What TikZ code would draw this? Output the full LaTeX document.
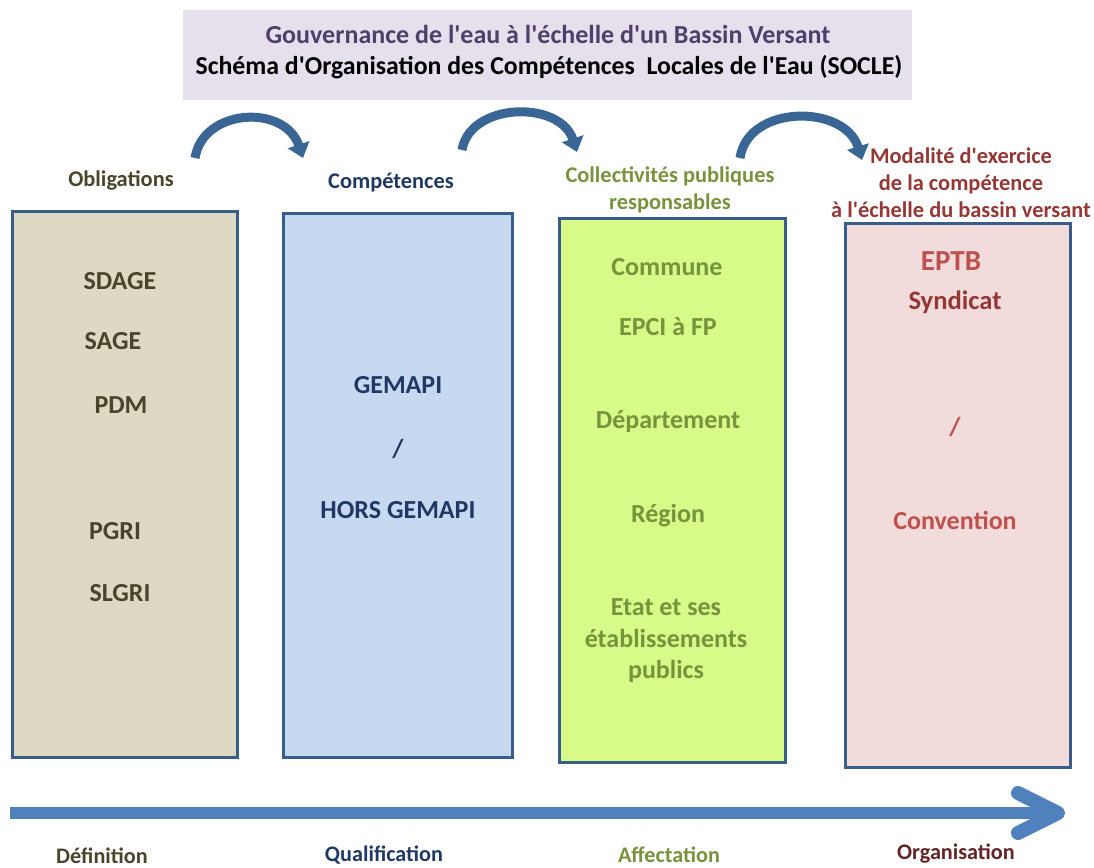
\documentclass[tikz,border=0pt]{standalone}
\usepackage{fontspec}
\setmainfont{Carlito}
\usetikzlibrary{arrows.meta}
\definecolor{titlebg}{HTML}{E5E0EC}
\definecolor{titlepurple}{HTML}{4F3F6B}
\definecolor{boxblue}{HTML}{385D8A}
\definecolor{curveblue}{HTML}{3A6696}
\definecolor{axisblue}{HTML}{4F81BD}
\definecolor{fillbrown}{HTML}{DDD9C3}
\definecolor{fillblue}{HTML}{C6D9F1}
\definecolor{fillgreen}{HTML}{D8FA88}
\definecolor{fillpink}{HTML}{F2DCDB}
\definecolor{txtbrown}{HTML}{4A452A}
\definecolor{txtnavy}{HTML}{1F3864}
\definecolor{txtgreen}{HTML}{77933C}
\definecolor{txtred}{HTML}{C0504D}
\definecolor{txtdarkred}{HTML}{953735}
\definecolor{txtwine}{HTML}{632423}
\newcommand{\ap}{\textquotesingle}

\begin{document}
\begin{tikzpicture}[x=0.5pt,y=-0.5pt,
    column/.style={draw=boxblue,line width=1.5pt},
    lbl/.style={inner sep=0pt,font=\bfseries\fontsize{13}{15.75}\selectfont,align=center},
    head/.style={inner sep=0pt,font=\bfseries\fontsize{11.2}{13.4}\selectfont,align=center},
    foot/.style={inner sep=0pt,font=\bfseries\fontsize{11.1}{13}\selectfont},
    steparrow/.style={draw=curveblue,line width=4.5pt,-{Triangle[length=7pt,width=11pt]}}]
	\useasboundingbox (0,0) rectangle (1094,868);
	% title
	\fill[titlebg] (183,10) rectangle (912,100);
	\node[inner sep=0pt,font=\bfseries\fontsize{13}{15}\selectfont,text=titlepurple] (title1) at (548,34) {Gouvernance de l\ap eau à l\ap échelle d\ap un Bassin Versant};
	\node[inner sep=0pt,font=\bfseries\fontsize{12.9}{15}\selectfont] (title2) at (549,67) {Schéma d\ap Organisation des Compétences\ \ Locales de l\ap Eau (SOCLE)};
	% curved arrows between the steps
	\coordinate (oblout) at (195,158);
	\coordinate (compin) at (303,158);
	\coordinate (compout) at (462,150);
	\coordinate (collin) at (577,152);
	\coordinate (collout) at (740,158);
	\coordinate (modin) at (862,160);
	\draw[steparrow] (oblout) .. controls (203,108) and (285,104) .. (compin);
	\draw[steparrow] (compout) .. controls (470,102) and (560,100) .. (collin);
	\draw[steparrow] (collout) .. controls (748,104) and (845,104) .. (modin);
	% headers
	\node[head,text=txtbrown] (hobl) at (121,181) {Obligations};
	\node[head,text=txtnavy] (hcomp) at (391,183) {Compétences};
	\node[head,text=txtgreen] (hcoll) at (670,190) {Collectivités publiques\\responsables};
	\node[head,text=txtdarkred] (hmod) at (961,183) {Modalité d\ap exercice\\de la compétence\\à l\ap échelle du bassin versant};
	% columns
	\draw[column,fill=fillbrown] (12,211) rectangle (237,757);
	\draw[column,fill=fillblue] (283,213) rectangle (512,757);
	\draw[column,fill=fillgreen] (559,218) rectangle (785,762);
	\draw[column,fill=fillpink] (845,223) rectangle (1070,767);
	% first column
	\node[lbl,text=txtbrown] (sdage) at (120,281) {SDAGE};
	\node[lbl,text=txtbrown] (sage) at (113,341) {SAGE};
	\node[lbl,text=txtbrown] (pdm) at (121,405) {PDM};
	\node[lbl,text=txtbrown] (pgri) at (115,531) {PGRI};
	\node[lbl,text=txtbrown] (slgri) at (120,593) {SLGRI};
	% second column
	\node[lbl,text=txtnavy] (gemapi) at (398,385) {GEMAPI};
	\node[lbl,text=txtnavy] (slash1) at (398,449) {/};
	\node[lbl,text=txtnavy] (hors) at (398,510) {HORS GEMAPI};
	% third column
	\node[lbl,text=txtgreen] (commune) at (667,267) {Commune};
	\node[lbl,text=txtgreen] (epci) at (668,327) {EPCI à FP};
	\node[lbl,text=txtgreen] (dep) at (668,422) {Département};
	\node[lbl,text=txtgreen] (reg) at (668,516) {Région};
	\node[lbl,text=txtgreen] (etat) at (666,641) {Etat et ses\\établissements\\publics};
	% fourth column
	\node[lbl,text=txtred,font=\bfseries\fontsize{14.5}{16}\selectfont] (eptb) at (951,261) {EPTB};
	\node[lbl,text=txtdarkred,font=\bfseries\fontsize{13.3}{15}\selectfont] (synd) at (955,302) {Syndicat};
	\node[lbl,text=txtred] (slash2) at (955,427) {/};
	\node[lbl,text=txtred] (conv) at (955,520) {Convention};
	% bottom axis
	\coordinate (axstart) at (10,813);
	\coordinate (axend) at (1052,813);
	\coordinate (tip) at (1058,813);
	\draw[axisblue,line width=6pt] (axstart) -- (axend);
	\draw[axisblue,line width=7pt,line cap=round,line join=round] (1018,793) -- (tip) -- (1018,833);
	% step names
	\node[foot,text=txtbrown] (fdef) at (102,856) {Définition};
	\node[foot,text=txtnavy] (fqual) at (384,855) {Qualification};
	\node[foot,text=txtgreen] (faff) at (669,855) {Affectation};
	\node[foot,text=txtwine] (forg) at (956,854) {Organisation};
\end{tikzpicture}
\end{document}
